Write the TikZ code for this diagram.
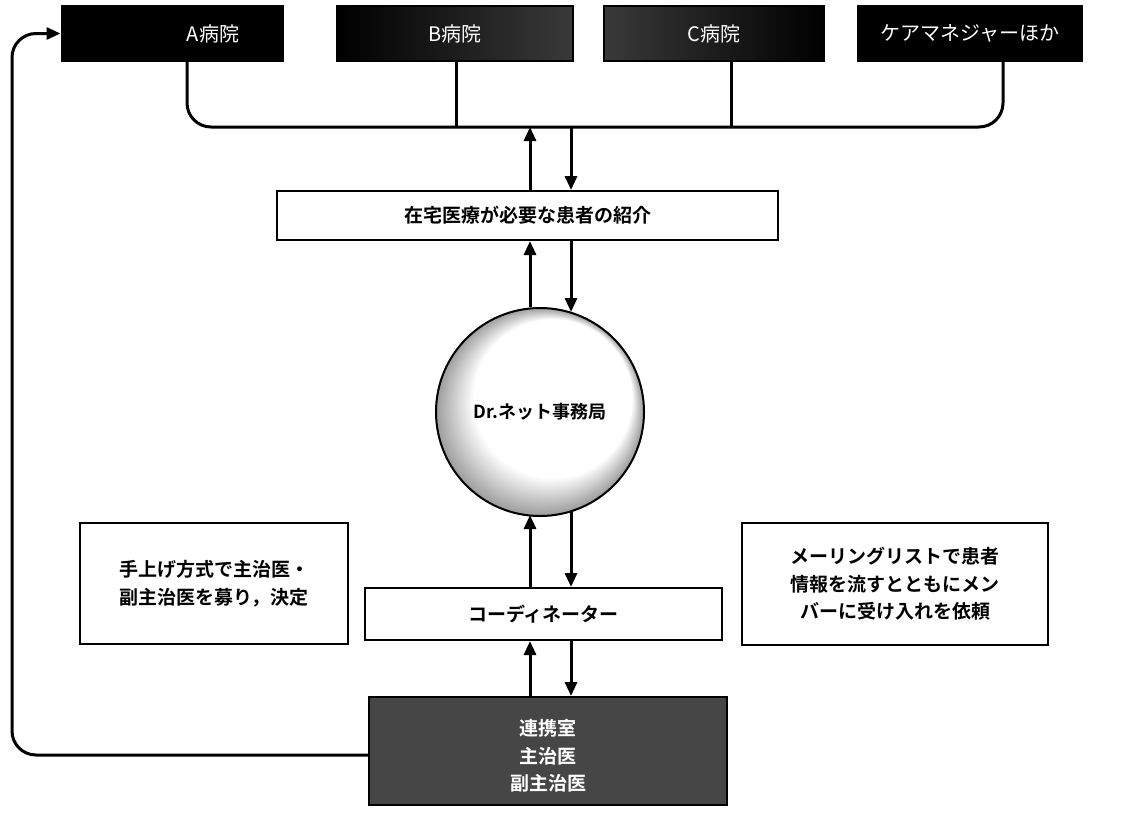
\documentclass[tikz,border=0pt]{standalone}
\usepackage{fontspec}
\setmainfont{Noto Sans CJK JP}
\newfontfamily\jpbold{Noto Sans CJK JP Bold}
\usetikzlibrary{arrows.meta,calc}
\tikzset{
  topbox/.style={draw=black, line width=1pt, minimum height=27.5pt, text=white, font=\fontsize{10}{11}\selectfont, inner sep=0pt},
  whitebox/.style={draw=black, line width=1pt, fill=white, font=\jpbold\fontsize{9.5}{13.8}\selectfont, align=center, inner sep=0pt},
  link/.style={line width=1.5pt, draw=black},
  arr/.style={line width=1.5pt, -{Triangle[width=6pt,length=7pt]}},
}
\begin{document}
\begin{tikzpicture}[x=0.5pt,y=-0.5pt]
\useasboundingbox (0,0) rectangle (1122,814);
% top boxes
\node[topbox, fill=black, minimum width=110.5pt] (A) at (172,33.5) {\hspace*{41pt}A病院};
\node[topbox, left color=black, right color=gray!45!black, minimum width=118pt] (B) at (455,33.5) {B病院};
\node[topbox, left color=gray!45!black, right color=black, minimum width=110pt] (C) at (714,33.5) {C病院};
\node[topbox, fill=black, minimum width=112pt] (D) at (970,33.5) {ケアマネジャーほか};
% bus
\coordinate (busL) at (187,127);
\coordinate (busR) at (1003,127);
\coordinate (busB) at (456,127);
\coordinate (busC) at (731,127);
\draw[link, rounded corners=12] (A.south -| busL) -- (busL) -- (busR) -- (D.south -| busR);
\draw[link] (B.south -| busB) -- (busB);
\draw[link] (C.south -| busC) -- (busC);
% middle boxes
\node[whitebox, minimum width=250.5pt, minimum height=24.5pt] (intro) at (527.5,215.5) {在宅医療が必要な患者の紹介};
% shaded ball
\fill[gray!75] (540,412) circle (104);
\foreach \i in {1,...,30} {
  \pgfmathsetmacro{\t}{\i/30}
  \pgfmathsetmacro{\cx}{540+13*\t}
  \pgfmathsetmacro{\cy}{412-13*\t}
  \pgfmathsetmacro{\r}{104-(104-80)*\t-0.5}
  \pgfmathsetmacro{\g}{75*(1-\t)}
  \fill[gray!\g] (\cx,\cy) circle (\r);
}
\node[circle, draw=black, line width=1pt, minimum size=104pt, inner sep=0pt, font=\jpbold\fontsize{9}{11}\selectfont] (net) at (540,412) {Dr.ネット事務局};
\node[whitebox, minimum width=178.5pt, minimum height=26pt] (coord) at (543.5,614) {コーディネーター};
\node[whitebox, minimum width=134pt, minimum height=60.5pt] (left) at (214,583.5) {手上げ方式で主治医・\\副主治医を募り，決定};
\node[whitebox, minimum width=153pt, minimum height=61pt] (right) at (895,584) {メーリングリストで患者\\情報を流すとともにメン\\バーに受け入れを依頼};
\node[draw=black, line width=1pt, fill=gray!55!black, minimum width=179pt, minimum height=54pt, inner sep=0pt,
  label={[text=white, align=center, inner sep=0pt, yshift=-2.5pt, font=\jpbold\fontsize{9.5}{13.8}\selectfont]center:{連携室\\主治医\\副主治医}}] (bot) at (548,751) {};
% arrows bus <-> intro
\coordinate (u1) at (530,127);
\coordinate (d1) at (571,127);
\draw[arr] (intro.north -| u1) -- (u1);
\draw[arr] (d1) -- (intro.north -| d1);
% intro <-> net
\draw[arr] (net.north -| u1) -- (intro.south -| u1);
\draw[arr] (intro.south -| d1) -- ($(net.north -| d1)+(0,5)$);
% net <-> coord
\draw[arr] (coord.north -| u1) -- ($(net.south -| u1)+(0,-2)$);
\draw[arr] ($(net.south -| d1)+(0,-5)$) -- (coord.north -| d1);
% coord <-> bot
\draw[arr] (bot.north -| u1) -- (coord.south -| u1);
\draw[arr] (coord.south -| d1) -- (bot.north -| d1);
% feedback loop
\coordinate (lc1) at (12,755);
\coordinate (lc2) at (12,33.5);
\draw[link, rounded corners=12, -{Triangle[width=6pt,length=7pt]}] (bot.west |- lc1) -- (lc1) -- (lc2) -- (A.west);
\end{tikzpicture}
\end{document}
